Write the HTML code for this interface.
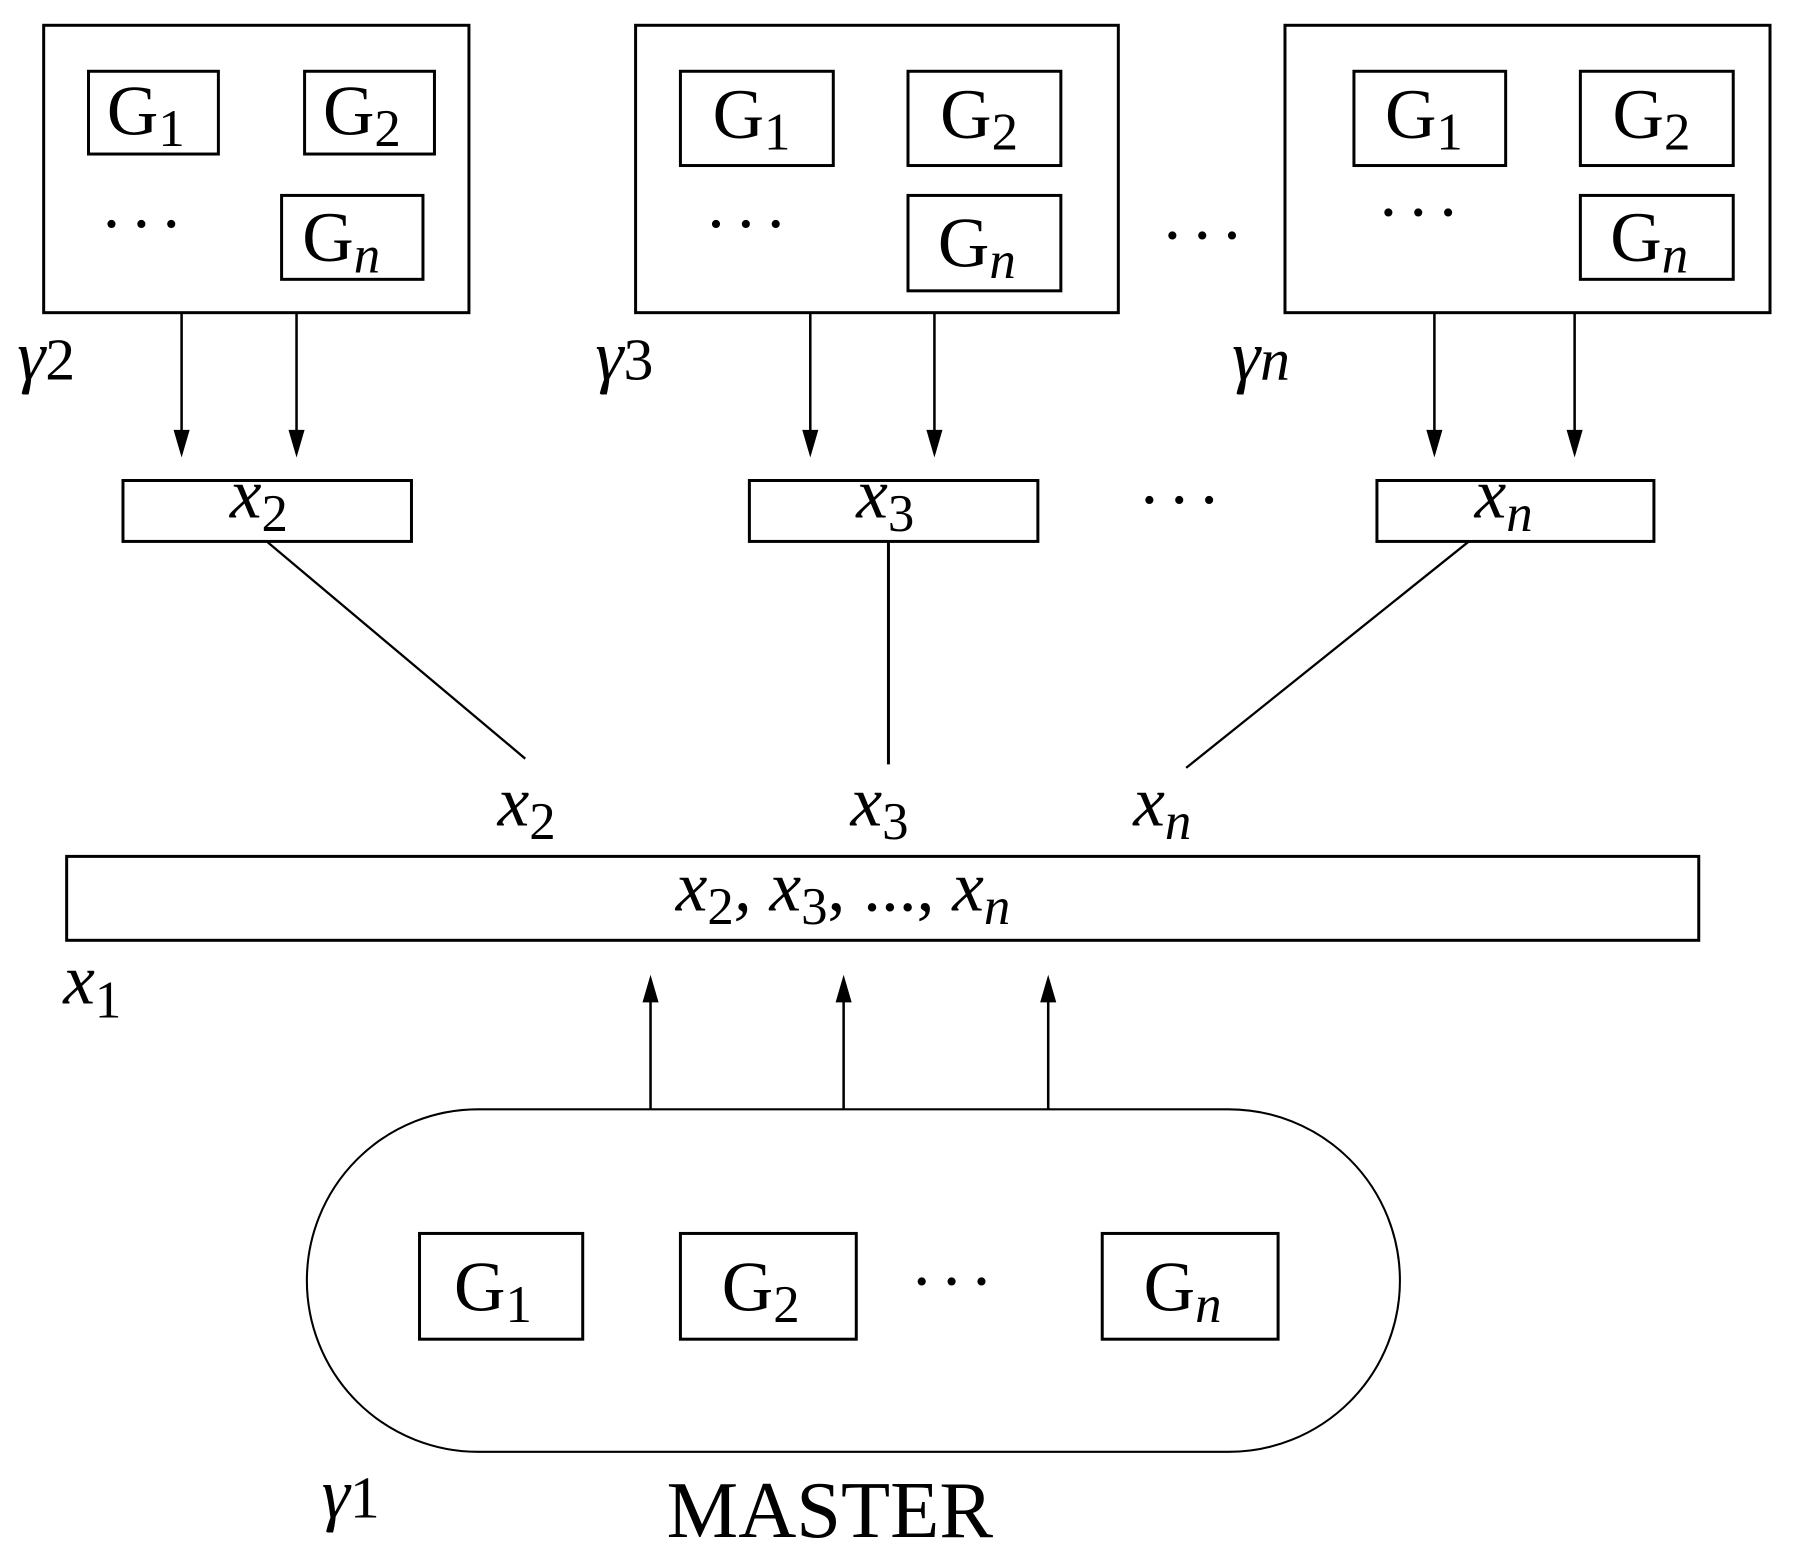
<!DOCTYPE html>
<html><head><style>html,body{margin:0;padding:0;background:#fff}svg{display:block}</style></head>
<body>
<svg width="1793" height="1553" viewBox="0 0 1560 1351" preserveAspectRatio="none" xmlns="http://www.w3.org/2000/svg" font-family="Liberation Serif, serif">
<g fill="none" stroke="#000" stroke-width="2.6">
<rect x="38" y="22" width="370" height="250"/>
<rect x="77" y="62" width="113" height="72"/><rect x="265" y="62" width="113" height="72"/><rect x="245" y="170" width="123" height="73"/>
<rect x="553" y="22" width="420" height="250"/>
<rect x="592" y="62" width="133" height="82"/><rect x="790" y="62" width="133" height="82"/><rect x="790" y="170" width="133" height="83"/>
<rect x="1118" y="22" width="422" height="250"/>
<rect x="1178" y="62" width="132" height="82"/><rect x="1375" y="62" width="133" height="82"/><rect x="1375" y="170" width="133" height="73"/>
<rect x="107" y="418" width="251" height="53"/><rect x="652" y="418" width="251" height="53"/><rect x="1198" y="418" width="241" height="53"/>
<rect x="58" y="745" width="1420" height="73"/>
<rect x="267" y="965" width="951" height="298" rx="149" ry="149" stroke-width="1.8"/>
<rect x="365" y="1073" width="142" height="92"/><rect x="592" y="1073" width="153" height="92"/><rect x="959" y="1073" width="153" height="92"/>
</g>
<g stroke="#000" stroke-width="2.2">
<line x1="232" y1="471" x2="457" y2="660" stroke-width="2"/>
<line x1="773" y1="471" x2="773" y2="665" stroke-width="2.6"/>
<line x1="1278" y1="471" x2="1032" y2="668" stroke-width="2"/>
</g>
<g fill="#000">
<g stroke="#000" stroke-width="2.2">
<line x1="158" y1="272" x2="158" y2="378"/><line x1="258" y1="272" x2="258" y2="378"/>
<line x1="705" y1="272" x2="705" y2="378"/><line x1="813" y1="272" x2="813" y2="378"/>
<line x1="1248" y1="272" x2="1248" y2="378"/><line x1="1370" y1="272" x2="1370" y2="378"/>
<line x1="566" y1="965" x2="566" y2="868"/><line x1="734" y1="965" x2="734" y2="868"/><line x1="912" y1="965" x2="912" y2="868"/>
</g>
<path d="M151,374 L165,374 L158,398 z M251,374 L265,374 L258,398 z M698,374 L712,374 L705,398 z M806,374 L820,374 L813,398 z M1241,374 L1255,374 L1248,398 z M1363,374 L1377,374 L1370,398 z"/>
<path d="M559,872 L573,872 L566,848 z M727,872 L741,872 L734,848 z M905,872 L919,872 L912,848 z"/>
</g>
<g font-size="62" fill="#000">
<text x="93" y="117">G<tspan font-size="46" dy="10">1</tspan></text>
<text x="281" y="117">G<tspan font-size="46" dy="10">2</tspan></text>
<text x="263" y="227">G<tspan font-size="46" dy="10" font-style="italic">n</tspan></text>
<text x="87" y="215" font-size="60" letter-spacing="6">···</text>
<text x="620" y="120">G<tspan font-size="46" dy="10">1</tspan></text>
<text x="818" y="120">G<tspan font-size="46" dy="10">2</tspan></text>
<text x="816" y="232">G<tspan font-size="46" dy="10" font-style="italic">n</tspan></text>
<text x="613" y="215" font-size="60" letter-spacing="6">···</text>
<text x="1205" y="120">G<tspan font-size="46" dy="10">1</tspan></text>
<text x="1403" y="120">G<tspan font-size="46" dy="10">2</tspan></text>
<text x="1401" y="227">G<tspan font-size="46" dy="10" font-style="italic">n</tspan></text>
<text x="1198" y="205" font-size="60" letter-spacing="6">···</text>
<text x="1010" y="225" font-size="60" letter-spacing="6">···</text>
<text x="990" y="455" font-size="60" letter-spacing="6">···</text>
<text x="792" y="1135" font-size="60" letter-spacing="6">···</text>
<text x="15" y="330" font-style="italic">γ<tspan font-style="normal" font-size="52">2</tspan></text>
<text x="518" y="330" font-style="italic">γ<tspan font-style="normal" font-size="52">3</tspan></text>
<text x="1072" y="330" font-style="italic">γ<tspan font-size="52">n</tspan></text>
<text x="200" y="450" font-style="italic">x<tspan font-style="normal" font-size="46" dy="12">2</tspan></text>
<text x="745" y="450" font-style="italic">x<tspan font-style="normal" font-size="46" dy="12">3</tspan></text>
<text x="1283" y="450" font-style="italic">x<tspan font-size="46" dy="12">n</tspan></text>
<text x="433" y="718" font-style="italic">x<tspan font-style="normal" font-size="46" dy="12">2</tspan></text>
<text x="740" y="718" font-style="italic">x<tspan font-style="normal" font-size="46" dy="12">3</tspan></text>
<text x="986" y="718" font-style="italic">x<tspan font-size="46" dy="12">n</tspan></text>
<text x="588" y="792" font-style="italic">x<tspan font-style="normal" font-size="46" dy="12">2</tspan><tspan dy="-12">, x</tspan><tspan font-style="normal" font-size="46" dy="12">3</tspan><tspan dy="-12" font-style="normal">, ..., </tspan><tspan>x</tspan><tspan font-size="46" dy="12">n</tspan></text>
<text x="55" y="873" font-style="italic">x<tspan font-style="normal" font-size="46" dy="12">1</tspan></text>
<text x="395" y="1140">G<tspan font-size="46" dy="10">1</tspan></text>
<text x="628" y="1140">G<tspan font-size="46" dy="10">2</tspan></text>
<text x="995" y="1140">G<tspan font-size="46" dy="10" font-style="italic">n</tspan></text>
<text x="280" y="1320" font-style="italic">γ<tspan font-style="normal" font-size="52">1</tspan></text>
<text x="722" y="1337" font-size="70" text-anchor="middle">MASTER</text>
</g>
</svg>
</body></html>
